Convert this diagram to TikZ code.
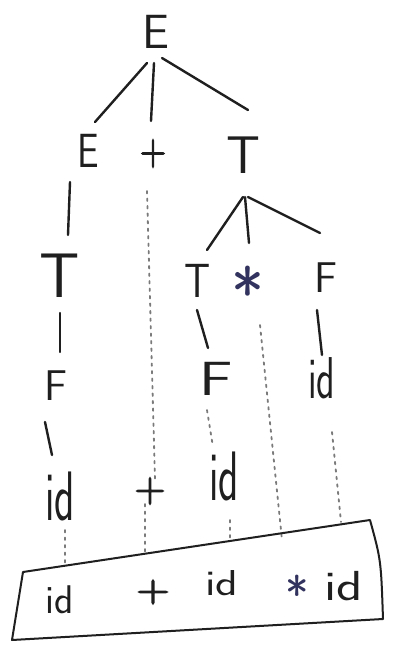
\documentclass[tikz,border=0pt]{standalone}
\usepackage{graphicx}
\usepackage{fontspec}
\newfontface\heavyglyph{lmsans10-regular.otf}[FakeBold=3]
\definecolor{ink}{HTML}{1F1F1F}
\definecolor{dots}{HTML}{7A7A7A}
\definecolor{blueink}{HTML}{33335F}
\tikzset{
  sym/.style={anchor=base, inner sep=0pt, text=ink, font=\sffamily},
  star/.style={anchor=base, inner sep=0pt, text=blueink, font=\sffamily},
  edge/.style={draw=ink, line width=2.4pt, line cap=round},
  dotline/.style={draw=dots, line width=1.8pt, line cap=round, dash pattern=on 2.5pt off 5pt},
  framebox/.style={draw=ink, line width=2pt, line join=round},
}
\newcommand{\fs}[1]{\fontsize{#1}{#1}\selectfont}
\begin{document}
\begin{tikzpicture}[x=1pt,y=-1pt]
\useasboundingbox[fill=white] (0,0) rectangle (392,656);
% level 0
\node[sym] (r) at (156,48) {\fs{48}E};
% level 1
\node[sym] (e1) at (88,167) {\fs{48}\scalebox{0.8}[1]{E}};
\node[sym] (p1) at (153,164) {\heavyglyph\fs{42}\scalebox{0.8}[1]{+}};
\node[sym] (t1) at (243,173) {\fs{53}T};
% level 2
\node[sym] (t2) at (60,297) {\fs{63}T};
\node[sym] (t3) at (198,297) {\fs{48}\scalebox{0.85}[1]{T}};
\node[star] (s1) at (248,318) {\fs{70}*};
\node[sym] (f1) at (326,292) {\fs{43}F};
% level 3
\node[sym] (f2) at (56,400) {\fs{43}F};
\node[sym] (f3) at (216,395) {\fs{48}\scalebox{1.3}[1]{F}};
\node[sym] (i1) at (322,398) {\fs{59}\scalebox{0.65}[1]{id}};
% level 4
\node[sym] (i2) at (60,520) {\fs{70}\scalebox{0.6}[1]{id}};
\node[sym] (p2) at (150,501) {\heavyglyph\fs{40}+};
\node[sym] (i3) at (224,500) {\fs{70}\scalebox{0.6}[1]{id}};
% bottom row
\node[sym] (b1) at (60,613) {\fs{40}id};
\node[sym] (b2) at (153,601) {\heavyglyph\fs{36}\scalebox{1.2}[1]{+}};
\node[sym] (b3) at (222,595) {\fs{36}\scalebox{1.3}[1]{id}};
\node[star] (b4) at (297,612) {\fs{50}*};
\node[sym] (b5) at (344,600) {\fs{42}\scalebox{1.3}[1]{id}};
% solid edges
\draw[edge] ([shift={(-9,15)}]r.base) -- ([shift={(7,-45)}]e1.base);
\draw[edge] ([shift={(-2,15)}]r.base) -- ([shift={(-2,-43)}]p1.base);
\draw[edge] ([shift={(6,10)}]r.base) -- ([shift={(5,-63)}]t1.base);
\draw[edge] ([shift={(-18,15)}]e1.base) -- ([shift={(8,-62)}]t2.base);
\draw[edge] ([shift={(0,24)}]t1.base) -- ([shift={(9,-47)}]t3.base);
\draw[edge] ([shift={(2,24)}]t1.base) -- ([shift={(1,-75)}]s1.base);
\draw[edge] ([shift={(5,24)}]t1.base) -- ([shift={(-6,-59)}]f1.base);
\draw[edge] ([shift={(0,16)}]t2.base) -- ([shift={(4,-48)}]f2.base);
\draw[edge] ([shift={(-1,13)}]t3.base) -- ([shift={(-8,-47)}]f3.base);
\draw[edge] ([shift={(-9,18)}]f1.base) -- ([shift={(0,-43)}]i1.base);
\draw[edge] ([shift={(-11,22)}]f2.base) -- ([shift={(-8,-65)}]i2.base);
% dotted edges
\draw[dotline] ([shift={(-6,27)}]p1.base) -- ([shift={(5,-22)}]p2.base);
\draw[dotline] ([shift={(12,7)}]s1.base) -- ([shift={(-15,-72)}]b4.base);
\draw[dotline] ([shift={(-9,15)}]f3.base) -- ([shift={(-11,-53)}]i3.base);
\draw[dotline] ([shift={(10,34)}]i1.base) -- ([shift={(-3,-78)}]b5.base);
\draw[dotline] ([shift={(5,10)}]i2.base) -- ([shift={(5,-46)}]b1.base);
\draw[dotline] ([shift={(-5,3)}]p2.base) -- ([shift={(-8,-47)}]b2.base);
\draw[dotline] ([shift={(6,20)}]i3.base) -- ([shift={(8,-55)}]b3.base);
% frame round the sentence
\draw[framebox] (23,572) -- (370,520) .. controls (381,560) .. (383,619) -- (12,640) -- cycle;
\end{tikzpicture}
\end{document}
